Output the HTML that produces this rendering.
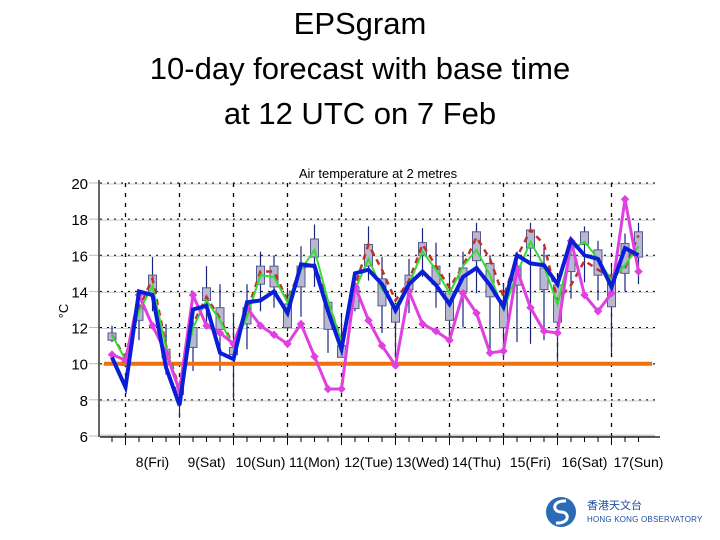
<!DOCTYPE html>
<html><head><meta charset="utf-8">
<style>
body{margin:0;background:#fff;width:720px;height:540px;overflow:hidden;font-family:"Liberation Sans",sans-serif;}
#title{position:absolute;left:0;top:1px;width:720px;text-align:center;font-size:31px;line-height:45px;color:#000;}
svg{position:absolute;left:0;top:0;}
</style></head>
<body>
<div id="title">EPSgram<br>10-day forecast with base time<br>at 12 UTC on 7 Feb</div>
<svg id="chart" width="720" height="540"></svg>
<script>
const dayLabels=["8(Fri)","9(Sat)","10(Sun)","11(Mon)","12(Tue)","13(Wed)","14(Thu)","15(Fri)","16(Sat)","17(Sun)"];
const yTicks=[6,8,10,12,14,16,18,20];
const refLine=10;
const blueSeries=[10.35,8.7,14.0,13.8,9.8,7.7,13.0,13.2,10.6,10.25,13.4,13.5,14.0,12.8,15.5,15.4,12.9,10.8,15.0,15.2,14.4,12.95,14.4,15.1,14.35,13.3,14.8,15.3,14.35,13.15,16.0,15.55,15.45,14.4,16.85,16.0,15.8,14.25,16.4,16.0];
const greenSeries=[11.6,10.2,12.9,14.3,10.9,8.5,12.0,13.5,12.4,10.9,12.6,14.9,14.8,13.4,15.2,16.3,13.5,11.2,14.1,15.8,14.1,13.2,14.4,16.2,15.2,13.9,15.4,16.3,14.9,12.95,15.0,16.75,15.4,13.3,16.3,16.75,15.8,14.6,15.45,16.5];
const redSeries=[11.6,10.3,13.1,14.7,11.0,8.6,12.2,13.7,12.5,11.0,12.9,15.1,15.1,13.5,15.3,15.5,13.4,11.3,14.3,16.6,15.2,13.5,14.6,16.6,15.4,14.2,15.4,17.0,15.8,13.7,15.9,17.4,16.6,13.5,14.35,15.7,15.2,14.8,15.3,17.1];
const magentaSeries=[10.5,10.2,13.8,12.1,10.6,8.5,13.8,12.1,11.7,11.1,13.1,12.1,11.6,11.1,12.2,10.4,8.6,8.6,14.3,12.4,11.0,9.9,14.0,12.2,11.8,11.3,13.9,12.8,10.6,10.7,15.2,13.1,11.8,11.7,16.8,13.8,12.9,13.9,19.1,15.1];
const boxTop=[11.7,10.1,13.1,14.9,10.8,8.7,12.0,14.2,13.1,10.9,13.1,15.4,15.4,13.3,15.4,16.9,13.4,11.0,14.25,16.6,14.7,13.1,14.9,16.7,15.4,14.0,15.3,17.3,15.55,13.5,15.4,17.4,15.3,14.35,16.0,17.3,16.3,14.9,16.65,17.3];
const boxBottom=[11.3,9.9,12.4,13.9,10.35,8.3,10.9,13.5,11.9,10.5,12.2,14.4,14.25,12.0,14.25,15.9,11.9,10.35,13.05,15.4,13.2,12.3,14.1,16.0,14.4,12.4,14.0,15.7,13.7,12.0,14.35,16.4,14.1,12.3,15.1,16.6,14.9,13.15,15.0,15.9];
const whiskerHigh=[12.1,10.3,13.6,15.9,12.2,9.05,12.6,15.4,14.4,12.8,14.4,16.2,16.0,14.2,16.5,17.7,13.5,12.6,14.6,17.6,15.9,13.3,15.8,17.5,16.7,15.0,16.2,17.8,16.0,14.4,16.2,17.8,16.4,14.8,16.3,17.6,16.8,15.4,17.2,17.8];
const whiskerLow=[11.2,9.8,11.3,12.9,9.4,7.0,9.6,12.0,9.6,8.0,10.8,12.9,13.1,11.8,12.6,14.25,10.6,10.35,12.9,14.6,11.7,10.3,12.8,14.8,13.1,11.6,12.0,13.9,10.8,10.2,11.2,11.1,11.3,10.1,13.6,14.5,13.5,10.6,14.0,14.4];

const NS="http://www.w3.org/2000/svg";
const svg=document.getElementById('chart');
const X0=112,DX=13.5,Y20=183,PPD=18.07;
function xs(i){return X0+i*DX;}
function ys(v){return Y20+(20-v)*PPD;}
function mk(tag,attrs,parent){const e=document.createElementNS(NS,tag);for(const k in attrs)e.setAttribute(k,attrs[k]);(parent||svg).appendChild(e);return e;}

const grid=mk('g',{});


yTicks.forEach(v=>{
  if(v>6){mk('line',{x1:100,x2:655,y1:ys(v)+1,y2:ys(v)+1,stroke:'#ccc','stroke-width':1},grid);
  mk('line',{x1:100,x2:655,y1:ys(v),y2:ys(v),stroke:'#000','stroke-width':1,'stroke-dasharray':'2,5'},grid);}
  const t=mk('text',{x:88,y:ys(v)+6,'text-anchor':'end','font-size':15,'font-family':'Liberation Sans',fill:'#000'});
  t.textContent=v;
  
  
  mk('line',{x1:89,x2:99,y1:ys(v),y2:ys(v),stroke:'#bbb','stroke-width':1},grid);
});
mk('line',{x1:100,x2:655,y1:ys(6),y2:ys(6),stroke:'#ccc','stroke-width':3},grid);
for(let d=0;d<dayLabels.length;d++){
  const x=xs(1)+d*4*DX;
  mk('line',{x1:x,x2:x,y1:183,y2:436,stroke:'#000','stroke-width':1.3,'stroke-dasharray':'4,6'},grid);
}
const ya=mk('line',{x1:99,x2:99,y1:180,y2:437,stroke:'#000','stroke-width':1.2});


const xa=mk('line',{x1:100,x2:660,y1:437,y2:437,stroke:'#000','stroke-width':1.2});


for(let i=0;i<41;i++){
  const x=xs(i)-DX;
  if(x<100)continue;
  const major=((i-2)%4===0);
  mk('line',{x1:x,x2:x,y1:437,y2:major?445:442,stroke:'#000','stroke-width':1});
}
dayLabels.forEach((lab,d)=>{
  const t=mk('text',{x:xs(1)+d*4*DX+27,y:467,'text-anchor':'middle','font-size':14,'font-family':'Liberation Sans',fill:'#000'});
  t.textContent=lab;
  
  
});
const yt=mk('text',{x:68,y:311,'text-anchor':'middle','font-size':13,'font-family':'Liberation Sans',transform:'rotate(-90 68 311)'});
yt.textContent='°C';


const st=mk('text',{x:378,y:178,'text-anchor':'middle','font-size':13,'font-family':'Liberation Sans',fill:'#000'});
st.textContent='Air temperature at 2 metres';



const bg=mk('g',{});


for(let i=0;i<boxTop.length;i++){
  const w=mk('line',{x1:xs(i),x2:xs(i),y1:ys(whiskerHigh[i]),y2:ys(whiskerLow[i]),stroke:'#1a237e','stroke-width':1.2},bg);
  
  
  const b=mk('rect',{x:xs(i)-4,y:ys(boxTop[i]),width:8,height:Math.max(1,ys(boxBottom[i])-ys(boxTop[i])),fill:'#b8b8d0',stroke:'#555a8a','stroke-width':1},bg);
  
  
}
const rl=mk('line',{x1:104,x2:652,y1:ys(refLine),y2:ys(refLine),stroke:'#f07010','stroke-width':4});



function poly(arr,attrs,name){
  const p=mk('polyline',Object.assign({points:arr.map((v,i)=>xs(i)+','+ys(v)).join(' '),fill:'none'},attrs));
  
  
  return p;
}
poly(redSeries,{stroke:'#c0302a','stroke-width':2.5,'stroke-dasharray':'6,5'},'red-dashed-series');
poly(greenSeries,{stroke:'#33dd33','stroke-width':2},'green-mean-series');
poly(magentaSeries,{stroke:'#e040e0','stroke-width':3},'magenta-series');
magentaSeries.forEach((v,i)=>{
  const d=mk('rect',{x:xs(i)-3,y:ys(v)-3,width:6,height:6,fill:'#e040e0',transform:`rotate(45 ${xs(i)} ${ys(v)})`});
  
  
});
poly(blueSeries,{stroke:'#0a1ed8','stroke-width':4},'blue-control-series');

const lg=mk('g',{});


mk('circle',{cx:561,cy:512,r:15,fill:'#2a6bb8'},lg);
mk('path',{d:'M566 501 C552 500 552 512 561 512 C570 512 570 524 556 523',stroke:'#fff','stroke-width':3,fill:'none'},lg);
const l1=mk('text',{x:587,y:509,'font-size':11,fill:'#1f4ea0','font-family':'"Noto Sans CJK TC",sans-serif'},lg);
l1.textContent='香港天文台';
const l2=mk('text',{x:587,y:522,'font-size':8,'letter-spacing':'0.2',fill:'#1f4ea0','font-family':'Liberation Sans'},lg);
l2.textContent='HONG KONG OBSERVATORY';
</script>
</body></html>
